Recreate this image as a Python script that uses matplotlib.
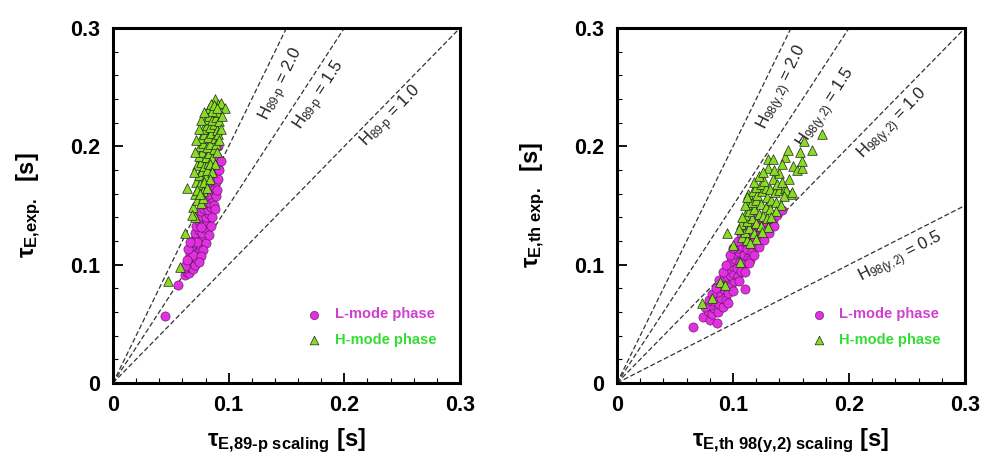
import numpy as np
import matplotlib
matplotlib.use('Agg')
import matplotlib.pyplot as plt
from matplotlib.ticker import MultipleLocator, FuncFormatter

plt.rcParams['font.family'] = ['Liberation Sans', 'DejaVu Sans']
plt.rcParams['mathtext.fontset'] = 'custom'
plt.rcParams['mathtext.rm'] = 'Liberation Sans'
plt.rcParams['mathtext.it'] = 'Liberation Sans:italic'
plt.rcParams['mathtext.bf'] = 'Liberation Sans:bold'

# ---- data ----
# left panel: tau_E,exp vs tau_E,89-p scaling
left_l_x = [0.045, 0.056, 0.062, 0.064, 0.066, 0.063, 0.067, 0.069, 0.065, 0.068, 0.071, 0.066, 0.070, 0.073,
            0.067, 0.069, 0.072, 0.074, 0.068, 0.071, 0.075, 0.070, 0.073, 0.076, 0.078, 0.071, 0.074, 0.077,
            0.079, 0.072, 0.075, 0.078, 0.081, 0.074, 0.077, 0.080, 0.083, 0.076, 0.079, 0.082, 0.085, 0.078,
            0.081, 0.084, 0.086, 0.080, 0.083, 0.087, 0.082, 0.085, 0.088, 0.084, 0.087, 0.089, 0.086, 0.089,
            0.091, 0.088, 0.090, 0.091, 0.087, 0.073, 0.076, 0.069,
            0.080, 0.083, 0.085, 0.086, 0.088, 0.089, 0.090, 0.091, 0.092, 0.093, 0.078, 0.076, 0.074, 0.062,
            0.064, 0.065, 0.067]
left_l_y = [0.057, 0.083, 0.091, 0.094, 0.093, 0.097, 0.098, 0.096, 0.101, 0.103, 0.100, 0.106, 0.107, 0.105,
            0.110, 0.112, 0.111, 0.114, 0.116, 0.118, 0.117, 0.121, 0.123, 0.120, 0.124, 0.127, 0.129, 0.127,
            0.131, 0.133, 0.135, 0.134, 0.137, 0.139, 0.141, 0.140, 0.143, 0.145, 0.147, 0.146, 0.149, 0.151,
            0.153, 0.152, 0.156, 0.158, 0.160, 0.161, 0.165, 0.167, 0.165, 0.171, 0.173, 0.170, 0.177, 0.179,
            0.182, 0.186, 0.191, 0.200, 0.150, 0.119, 0.132, 0.108,
            0.118, 0.125, 0.133, 0.140, 0.147, 0.158, 0.163, 0.172, 0.180, 0.188, 0.112, 0.107, 0.102, 0.099,
            0.104, 0.113, 0.119]
left_h_x = [0.048, 0.058, 0.062, 0.064, 0.069, 0.071, 0.068, 0.071, 0.073, 0.076, 0.072, 0.075, 0.078, 0.074,
            0.077, 0.080, 0.073, 0.076, 0.079, 0.082, 0.074, 0.077, 0.080, 0.083, 0.086, 0.075, 0.078, 0.081,
            0.084, 0.087, 0.076, 0.079, 0.082, 0.085, 0.088, 0.078, 0.081, 0.084, 0.087, 0.090, 0.080, 0.083,
            0.086, 0.089, 0.092, 0.083, 0.088, 0.091, 0.093, 0.097, 0.090, 0.086, 0.073, 0.079, 0.081, 0.084,
            0.089, 0.091, 0.094,
            0.071, 0.072, 0.074, 0.076, 0.079, 0.085, 0.093, 0.092, 0.090, 0.088, 0.086, 0.084, 0.081, 0.078,
            0.075, 0.070, 0.087, 0.090]
left_h_y = [0.086, 0.098, 0.127, 0.165, 0.149, 0.140, 0.142, 0.160, 0.155, 0.152, 0.170, 0.168, 0.162, 0.176,
            0.179, 0.175, 0.184, 0.187, 0.183, 0.186, 0.192, 0.195, 0.191, 0.194, 0.190, 0.200, 0.203, 0.199,
            0.202, 0.198, 0.207, 0.210, 0.208, 0.211, 0.207, 0.215, 0.218, 0.216, 0.219, 0.214, 0.223, 0.226,
            0.222, 0.225, 0.221, 0.232, 0.240, 0.236, 0.237, 0.232, 0.229, 0.230, 0.163, 0.170, 0.180, 0.185,
            0.202, 0.210, 0.226,
            0.195, 0.205, 0.215, 0.222, 0.229, 0.236, 0.215, 0.205, 0.195, 0.185, 0.178, 0.172, 0.165, 0.156,
            0.160, 0.178, 0.235, 0.232]

# right panel: tau_E,th exp vs tau_E,th 98(y,2) scaling
right_l_x = [0.0655, 0.074, 0.080, 0.086, 0.110, 0.078, 0.082, 0.084, 0.080, 0.087, 0.083, 0.088, 0.091, 0.085,
             0.090, 0.094, 0.087, 0.092, 0.096, 0.089, 0.094, 0.098, 0.101, 0.092, 0.097, 0.100, 0.104, 0.095,
             0.099, 0.103, 0.107, 0.098, 0.102, 0.106, 0.110, 0.101, 0.105, 0.109, 0.113, 0.104, 0.108, 0.112,
             0.116, 0.108, 0.112, 0.116, 0.120, 0.113, 0.117, 0.121, 0.124, 0.119, 0.123, 0.127, 0.130, 0.134,
             0.138, 0.142, 0.115, 0.126,
             0.076, 0.079, 0.082, 0.085, 0.088, 0.091, 0.094, 0.097, 0.100, 0.104, 0.107, 0.111, 0.115, 0.120,
             0.096, 0.100, 0.105, 0.110, 0.114, 0.118, 0.122, 0.127, 0.131, 0.135]
right_l_y = [0.047, 0.056, 0.053, 0.051, 0.079, 0.061, 0.058, 0.063, 0.066, 0.060, 0.069, 0.067, 0.064, 0.073,
             0.072, 0.070, 0.077, 0.079, 0.076, 0.083, 0.085, 0.082, 0.086, 0.089, 0.091, 0.093, 0.090, 0.096,
             0.099, 0.097, 0.095, 0.103, 0.105, 0.102, 0.101, 0.109, 0.111, 0.108, 0.106, 0.114, 0.116, 0.113,
             0.111, 0.120, 0.122, 0.119, 0.117, 0.126, 0.128, 0.125, 0.123, 0.133, 0.131, 0.129, 0.135, 0.138,
             0.142, 0.146, 0.104, 0.136,
             0.064, 0.070, 0.075, 0.080, 0.087, 0.094, 0.100, 0.108, 0.114, 0.120, 0.126, 0.131, 0.136, 0.140,
             0.068, 0.078, 0.086, 0.094, 0.101, 0.108, 0.115, 0.121, 0.127, 0.133]
right_h_x = [0.073, 0.082, 0.089, 0.093, 0.095, 0.100, 0.106, 0.108, 0.112, 0.110, 0.114, 0.118, 0.107, 0.112,
             0.116, 0.120, 0.124, 0.110, 0.114, 0.118, 0.122, 0.126, 0.129, 0.112, 0.116, 0.120, 0.124, 0.128,
             0.132, 0.113, 0.117, 0.121, 0.125, 0.129, 0.133, 0.137, 0.120, 0.124, 0.128, 0.132, 0.136, 0.140,
             0.145, 0.150, 0.127, 0.134, 0.140, 0.130, 0.130, 0.1345, 0.145, 0.1475, 0.146, 0.151, 0.152, 0.155,
             0.159, 0.159, 0.158, 0.161, 0.168, 0.177,
             0.105, 0.108, 0.110, 0.112, 0.118, 0.122, 0.126, 0.135, 0.138, 0.142, 0.144, 0.141, 0.137, 0.133,
             0.130, 0.125, 0.120, 0.115, 0.148, 0.142]
right_h_y = [0.068, 0.072, 0.085, 0.083, 0.127, 0.117, 0.102, 0.123, 0.121, 0.128, 0.131, 0.127, 0.134, 0.137,
             0.139, 0.135, 0.133, 0.142, 0.145, 0.147, 0.143, 0.141, 0.139, 0.151, 0.153, 0.155, 0.151, 0.149,
             0.147, 0.160, 0.162, 0.159, 0.162, 0.157, 0.155, 0.153, 0.166, 0.168, 0.165, 0.164, 0.161, 0.163,
             0.165, 0.160, 0.171, 0.172, 0.1775, 0.182, 0.189, 0.189, 0.191, 0.197, 0.163, 0.161, 0.183, 0.180,
             0.182, 0.188, 0.195, 0.2045, 0.197, 0.210,
             0.130, 0.140, 0.150, 0.157, 0.170, 0.175, 0.178, 0.180, 0.168, 0.170, 0.158, 0.150, 0.145, 0.140,
             0.132, 0.128, 0.122, 0.118, 0.172, 0.185]

left_h_factors = [2.0, 1.5, 1.0]
right_h_factors = [2.0, 1.5, 1.0, 0.5]
left_label_pos = [(0.146, 0.252), (0.179, 0.243), (0.241, 0.225)]
right_label_pos = [(0.143, 0.250), (0.181, 0.232), (0.238, 0.219), (0.245, 0.106)]

L_COLOR = '#e030e0'
H_COLOR = '#88dd22'
L_TEXT = '#d040d0'
H_TEXT = '#33dd33'

fig = plt.figure(figsize=(9.97, 4.67), dpi=100)
ax1 = fig.add_axes([0.1133, 0.1799, 0.3481, 0.7602])
ax2 = fig.add_axes([0.6189, 0.1799, 0.3491, 0.7602])


def style_axes(ax):
    ax.set_xlim(0, 0.3)
    ax.set_ylim(0, 0.3)
    for sp in ax.spines.values():
        sp.set_linewidth(2.2)
    ax.xaxis.set_major_locator(MultipleLocator(0.1))
    ax.yaxis.set_major_locator(MultipleLocator(0.1))
    ax.xaxis.set_minor_locator(MultipleLocator(0.02))
    ax.yaxis.set_minor_locator(MultipleLocator(0.02))
    fmt = FuncFormatter(lambda v, p: '0' if abs(v) < 1e-9 else f'{v:.1f}')
    ax.xaxis.set_major_formatter(fmt)
    ax.yaxis.set_major_formatter(fmt)
    ax.tick_params(which='both', direction='in', top=False, right=False)
    ax.tick_params(which='major', length=7, width=1.3, labelsize=15.5, pad=9)
    ax.tick_params(which='minor', length=3.5, width=0.8)
    for lab in ax.get_xticklabels() + ax.get_yticklabels():
        lab.set_fontweight('bold')


def draw_lines(ax, factors, positions, sub):
    xs = np.array([0.0, 0.3])
    for h, (tx, ty) in zip(factors, positions):
        ax.plot(xs, h * xs, ls=(0, (4, 2)), color='#333333', lw=0.9, zorder=1)
        p0 = ax.transData.transform((0, 0))
        p1 = ax.transData.transform((0.1, 0.1 * h))
        ang = np.degrees(np.arctan2(p1[1] - p0[1], p1[0] - p0[0]))
        ax.text(tx, ty, 'H$_{\\mathregular{' + sub + '}}$ = ' + f'{h:.1f}', rotation=ang,
                rotation_mode='anchor', ha='center', va='center', fontsize=12, color='#222222')


def draw_points(ax, lx, ly, hx, hy):
    ax.scatter(lx, ly, s=44, marker='o', facecolor=L_COLOR, edgecolor='#551155', linewidth=0.4,
               zorder=3, label='L-mode phase')
    ax.scatter(hx, hy, s=48, marker='^', facecolor=H_COLOR, edgecolor='#222222', linewidth=0.5,
               zorder=4, label='H-mode phase')
    leg = ax.legend(loc='upper left', bbox_to_anchor=(0.50, 0.25), frameon=False,
                    prop={'size': 10.5, 'weight': 'bold'},
                    handletextpad=0.4, labelspacing=0.8, markerscale=0.9,
                    labelcolor=[L_TEXT, H_TEXT])
    return leg


for ax in (ax1, ax2):
    style_axes(ax)

draw_lines(ax1, left_h_factors, left_label_pos, '89\u2010p')
draw_lines(ax2, right_h_factors, right_label_pos, '98(y{,}2)')
draw_points(ax1, left_l_x, left_l_y, left_h_x, left_h_y)
draw_points(ax2, right_l_x, right_l_y, right_h_x, right_h_y)

ax1.set_xlabel('$\\mathbf{\u03c4_{E{,}89\u2010p\\ scaling}}$ [s]', fontsize=17, fontweight='bold', labelpad=7)
ax1.set_ylabel('$\\mathbf{\u03c4_{E{,}exp.}}$  [s]', fontsize=17, fontweight='bold', labelpad=20)
ax2.set_xlabel('$\\mathbf{\u03c4_{E{,}th\\ 98(y{,}2)\\ scaling}}$ [s]', fontsize=17, fontweight='bold', labelpad=7)
ax2.set_ylabel('$\\mathbf{\u03c4_{E{,}th\\ exp.}}$  [s]', fontsize=17, fontweight='bold', labelpad=20)

fig.savefig('out.png', dpi=100)
